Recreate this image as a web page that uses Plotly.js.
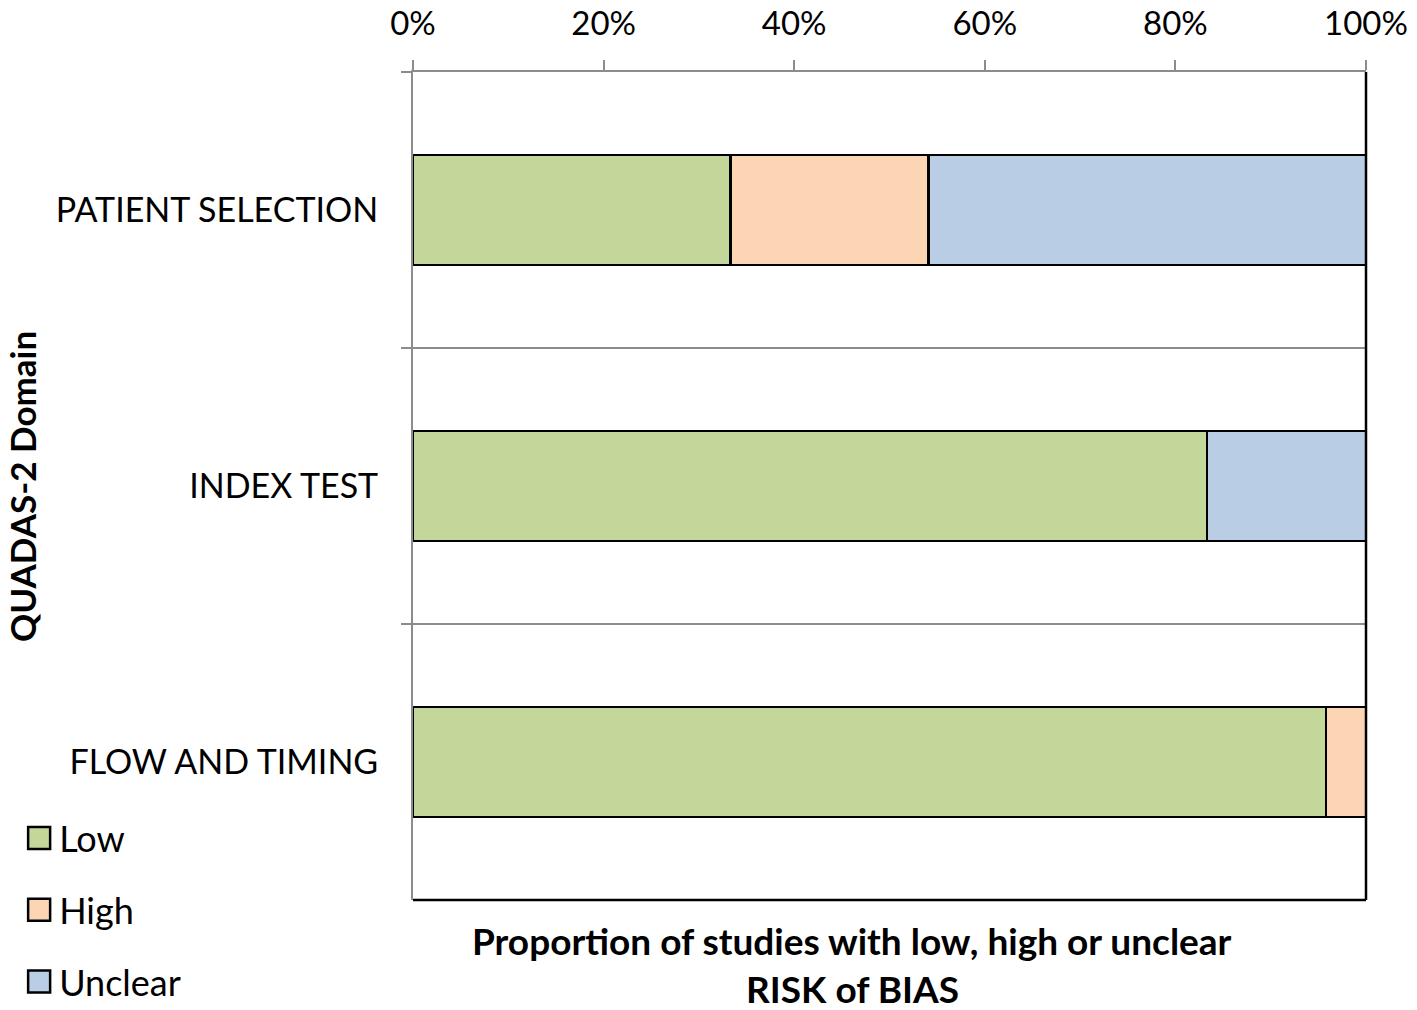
<!DOCTYPE html>
<html>
<head>
<meta charset="utf-8">
<script src="https://cdn.plot.ly/plotly-3.0.1.min.js"></script>
<style>
  html, body { margin: 0; padding: 0; background: #fff; }
  #chart { width: 1417px; height: 1010px; }
</style>
</head>
<body>
<div id="chart"></div>
<script>
// Data (proportions of studies)
const domains = ["PATIENT SELECTION", "INDEX TEST", "FLOW AND TIMING"];
const lowValues = [0.333, 0.833, 0.958];
const highValues = [0.208, 0.0, 0.042];
const unclearValues = [0.459, 0.167, 0.0];
const seriesNames = ["Low", "High", "Unclear"];
const xTickVals = [0, 0.2, 0.4, 0.6, 0.8, 1.0];

const colors = ["#C4D79B", "#FCD5B5", "#B9CDE5"];
const FONT = "Lato, 'Open Sans', sans-serif";

const seriesValues = [lowValues, highValues, unclearValues];
const traces = seriesValues.map((vals, i) => ({
  type: "bar",
  orientation: "h",
  name: seriesNames[i],
  y: domains,
  x: vals,
  width: 0.4,
  legendgroup: "g" + i,
  marker: { color: colors[i], line: { color: "#000000", width: 2.5 } },
  hoverinfo: "skip"
}));

const gray = "#8C8C8C";

const layout = {
  width: 1417,
  height: 1010,
  barmode: "stack",
  paper_bgcolor: "#ffffff",
  plot_bgcolor: "#ffffff",
  margin: { l: 413, r: 51, t: 72, b: 110 },
  font: { family: FONT, size: 34, color: "#000000" },
  showlegend: true,
  legend: {
    orientation: "v",
    xref: "container", yref: "container",
    x: 0.0135, xanchor: "left",
    y: 0.2, yanchor: "top",
    traceorder: "grouped",
    tracegroupgap: 22,
    font: { family: FONT, size: 36, color: "#000000" },
    bgcolor: "rgba(0,0,0,0)"
  },
  xaxis: {
    side: "top",
    range: [0, 1],
    tickvals: xTickVals,
    tickformat: ".0%",
    ticks: "outside",
    ticklen: 10,
    tickwidth: 2,
    tickcolor: gray,
    showline: true,
    linecolor: gray,
    linewidth: 2,
    showgrid: false,
    zeroline: false,
    ticklabelstandoff: 12,
    tickfont: { family: FONT, size: 33, color: "#000000" },
    fixedrange: true
  },
  yaxis: {
    type: "category",
    autorange: "reversed",
    tickson: "boundaries",
    ticks: "outside",
    ticklen: 10,
    tickwidth: 2,
    tickcolor: gray,
    showline: true,
    linecolor: gray,
    linewidth: 2,
    showgrid: true,
    gridcolor: gray,
    gridwidth: 2,
    ticklabelstandoff: 26,
    tickfont: { family: FONT, size: 34, color: "#000000" },
    fixedrange: true
  },
  shapes: [
    { type: "line", xref: "paper", yref: "paper", x0: 1, x1: 1, y0: 0, y1: 1, line: { color: "#000000", width: 2.5 } },
    { type: "line", xref: "paper", yref: "paper", x0: 0, x1: 1, y0: 0, y1: 0, line: { color: "#000000", width: 2.5 } }
  ],
  annotations: [
    {
      text: "<b>QUADAS-2 Domain</b>",
      xref: "paper", yref: "paper",
      x: -0.41, y: 0.499,
      xanchor: "center", yanchor: "middle",
      textangle: -90,
      showarrow: false,
      font: { family: FONT, size: 35, color: "#000000" }
    },
    {
      text: "<b>Proportion of studies with low, high or unclear</b>",
      xref: "paper", yref: "paper",
      x: 0.461, y: -0.0495,
      xanchor: "center", yanchor: "middle",
      showarrow: false,
      font: { family: FONT, size: 37, color: "#000000" }
    },
    {
      text: "<b>RISK of BIAS</b>",
      xref: "paper", yref: "paper",
      x: 0.461, y: -0.107,
      xanchor: "center", yanchor: "middle",
      showarrow: false,
      font: { family: FONT, size: 37, color: "#000000" }
    }
  ]
};

Plotly.newPlot("chart", traces, layout, { displayModeBar: false, staticPlot: true }).then(() => {
  // enlarge legend swatches to match the reference's bigger boxes
  document.querySelectorAll("#chart .legend .legendpoints path").forEach(p => {
    p.setAttribute("d", "M11,11H-11V-11H11Z");
    p.style.strokeWidth = "2.5px";
    p.style.stroke = "#000000";
  });
});
</script>
</body>
</html>
